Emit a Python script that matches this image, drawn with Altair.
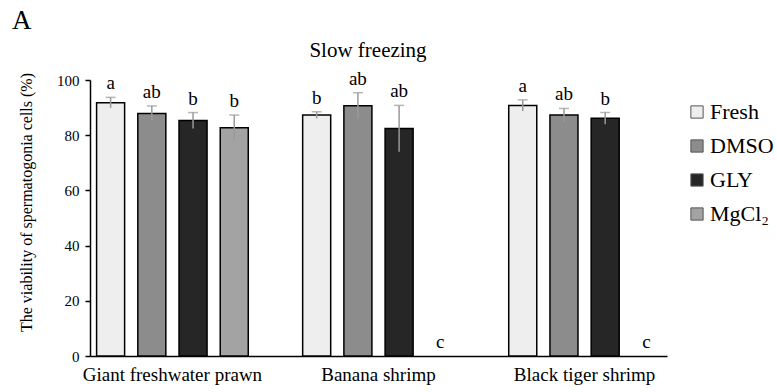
import altair as alt
import pandas as pd

groups = ["Giant freshwater prawn", "Banana shrimp", "Black tiger shrimp"]
treatments = ["Fresh", "DMSO", "GLY", "MgCl₂"]

giant_mean = [91.8, 87.9, 85.3, 82.7]
banana_mean = [87.3, 90.7, 82.4, 0.0]
tiger_mean = [90.8, 87.3, 86.1, 0.0]

giant_err = [1.9, 2.7, 2.9, 4.6]
banana_err = [1.2, 4.7, 8.4, 0.0]
tiger_err = [2.0, 2.4, 2.1, 0.0]

giant_letters = ["a", "ab", "b", "b"]
banana_letters = ["b", "ab", "ab", "c"]
tiger_letters = ["a", "ab", "b", "c"]

colors = ["#eeeeee", "#8c8c8c", "#262626", "#a3a3a3"]

panel_label = ["A"]
chart_title = ["Slow freezing"]

rows = []
for g, means, errs, lets in [
    (groups[0], giant_mean, giant_err, giant_letters),
    (groups[1], banana_mean, banana_err, banana_letters),
    (groups[2], tiger_mean, tiger_err, tiger_letters),
]:
    for t, m, e, l in zip(treatments, means, errs, lets):
        rows.append({"group": g, "treatment": t, "mean": m, "err": e,
                     "lo": m - e, "hi": m + e, "letter": l})
df = pd.DataFrame(rows)

FONT = "Liberation Serif"

x_enc = alt.X("group:N", sort=groups,
              scale=alt.Scale(paddingInner=0.2, paddingOuter=0),
              axis=alt.Axis(title=None, labelAngle=0, ticks=False, labelFont=FONT,
                            labelFontSize=19, labelColor="black", labelPadding=9,
                            domainColor="black", domainWidth=1.5))
xo_enc = alt.XOffset("treatment:N", sort=treatments,
                     scale=alt.Scale(paddingInner=0.32, paddingOuter=0.16))
y_scale = alt.Scale(domain=[0, 100], nice=False)

base = alt.Chart(df)

bars = base.transform_filter("datum.mean > 0").mark_bar(
    stroke="black", strokeWidth=1.5
).encode(
    x=x_enc,
    xOffset=xo_enc,
    y=alt.Y("mean:Q", scale=y_scale,
            axis=alt.Axis(title="The viability of spermatogonia cells (%)",
                          values=[0, 20, 40, 60, 80, 100], grid=False,
                          labelFont=FONT, labelFontSize=15, labelColor="black",
                          tickColor="black", tickSize=5, tickWidth=1.5,
                          domainColor="black", domainWidth=1.5, labelPadding=6,
                          titleFont=FONT, titleFontSize=16, titleFontWeight="normal",
                          titleColor="black", titleY=122, titleX=-56)),
    fill=alt.Fill("treatment:N", sort=treatments,
                  scale=alt.Scale(domain=treatments, range=colors),
                  legend=alt.Legend(title=None, orient="none", legendX=596, legendY=21,
                                    symbolType="square", symbolSize=150,
                                    symbolStrokeColor="#555555", symbolStrokeWidth=1,
                                    labelFont=FONT, labelFontSize=22, labelColor="black",
                                    rowPadding=12, labelOffset=2)),
)

err_rule = base.transform_filter("datum.err > 0").mark_rule(
    color="#999999", strokeWidth=1.5
).encode(
    x=alt.X("group:N", sort=groups),
    xOffset=alt.XOffset("treatment:N", sort=treatments),
    y=alt.Y("lo:Q", scale=y_scale),
    y2="hi:Q",
)

caps = base.transform_filter("datum.err > 0").mark_tick(
    color="#999999", thickness=1.5, size=10
).encode(
    x=alt.X("group:N", sort=groups),
    xOffset=alt.XOffset("treatment:N", sort=treatments),
    y=alt.Y("hi:Q", scale=y_scale),
)

letters = base.mark_text(
    font=FONT, fontSize=19, color="black", baseline="bottom", dy=-4
).encode(
    x=alt.X("group:N", sort=groups),
    xOffset=alt.XOffset("treatment:N", sort=treatments),
    y=alt.Y("hi:Q", scale=y_scale),
    text="letter:N",
)

panel = alt.Chart(pd.DataFrame({"label": panel_label})).mark_text(
    font=FONT, fontSize=27, color="black", align="left", baseline="alphabetic"
).encode(x=alt.value(-78), y=alt.value(-51), text="label:N")

title_mark = alt.Chart(pd.DataFrame({"label": chart_title})).mark_text(
    font=FONT, fontSize=21, color="black", align="center", baseline="alphabetic"
).encode(x=alt.value(278), y=alt.value(-23), text="label:N")

chart = alt.layer(bars, err_rule, caps, letters, panel, title_mark).properties(
    width=577, height=276,
    autosize=alt.AutoSizeParams(type="none"),
    padding={"left": 90, "top": 80, "right": 110, "bottom": 36},
).configure_view(stroke=None)

chart.save("out.html", embed_options={"renderer": "svg", "actions": False})
